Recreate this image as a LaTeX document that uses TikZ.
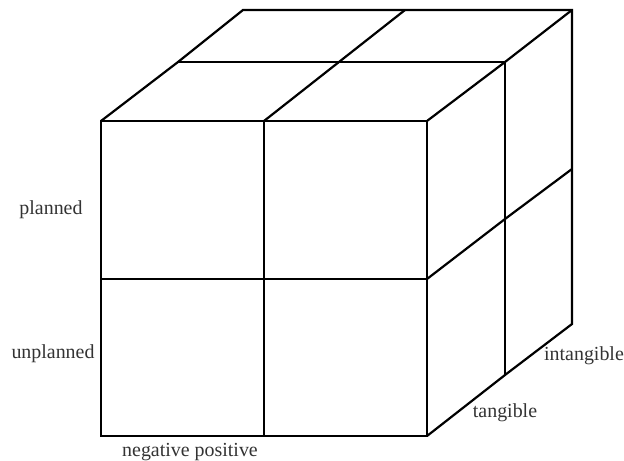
\documentclass[tikz,border=0pt]{standalone}
\usepackage{fontspec}
\setmainfont{Liberation Serif}
\begin{document}
\begin{tikzpicture}[x=1bp,y=-1bp,
  edge/.style={line width=2.2bp,line join=miter,line cap=butt},
  lbl/.style={font=\fontsize{20}{20}\selectfont,text=black!80,inner sep=0pt}]
\useasboundingbox[fill=white] (0,0) rectangle (624,461);
% front face
\coordinate (ftl) at (101,121);
\coordinate (ftm) at (264,121);
\coordinate (ftr) at (427,121);
\coordinate (fml) at (101,279);
\coordinate (fmr) at (427,279);
\coordinate (fbl) at (101,436);
\coordinate (fbm) at (264,436);
\coordinate (fbr) at (427,436);
% mid depth
\coordinate (mtl) at (178,62);
\coordinate (mtr) at (505,62);
\coordinate (mmr) at (505,219);
\coordinate (mbr) at (505,375);
% back
\coordinate (btl) at (243,10);
\coordinate (btm) at (405,10);
\coordinate (btr) at (572,10);
\coordinate (bmr) at (572,169);
\coordinate (bbr) at (572,324);
\draw[edge] (ftl) rectangle (fbr);
\draw[edge] (ftm) -- (fbm);
\draw[edge] (fml) -- (fmr);
\draw[edge] (ftl) -- (mtl) -- (btl) -- (btr) -- (bbr) -- (mbr) -- (fbr);
\draw[edge] (ftr) -- (mtr) -- (btr);
\draw[edge] (mtl) -- (mtr) -- (mbr);
\draw[edge] (ftm) -- (btm);
\draw[edge] (fmr) -- (mmr) -- (bmr);
\node[lbl] (planned) at (51,210) {planned};
\node[lbl] (unplanned) at (53,354) {unplanned};
\node[lbl] (negpos) at (190,452) {negative positive};
\node[lbl] (tangible) at (505,413) {tangible};
\node[lbl] (intangible) at (584,356) {intangible};
\end{tikzpicture}
\end{document}
